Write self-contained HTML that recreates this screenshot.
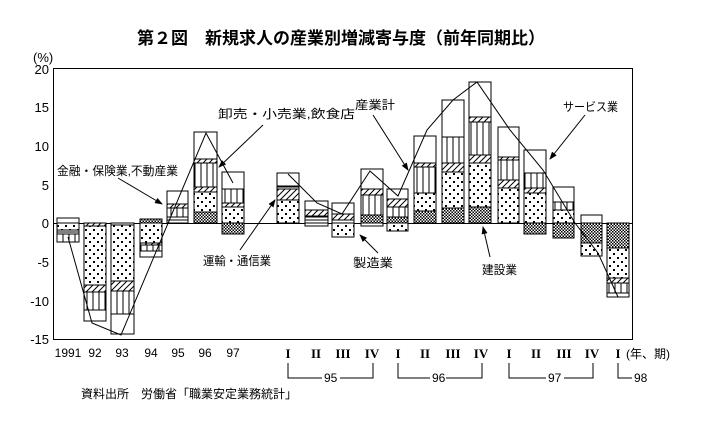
<!DOCTYPE html>
<html><head><meta charset="utf-8"><style>
html,body{margin:0;padding:0;background:#fff;}
svg{display:block;font-family:"Liberation Sans","Noto Sans CJK JP",sans-serif;}
</style></head><body>
<svg width="716" height="422" viewBox="0 0 716 422" xmlns="http://www.w3.org/2000/svg">
<defs>
<pattern id="V" width="6" height="6" patternUnits="userSpaceOnUse"><rect width="6" height="6" fill="#fff"/><line x1="3" y1="0" x2="3" y2="6" stroke="#000" stroke-width="1"/></pattern>
<pattern id="D" width="6" height="6" patternUnits="userSpaceOnUse"><rect width="6" height="6" fill="#fff"/><path d="M0,6 L6,0 M-1,1 L1,-1 M5,7 L7,5" stroke="#000" stroke-width="1"/></pattern>
<pattern id="S" width="8" height="8" patternUnits="userSpaceOnUse"><rect width="8" height="8" fill="#fff"/><rect x="1" y="1" width="2" height="2" fill="#000"/><rect x="5" y="5" width="2" height="2" fill="#000"/></pattern>
<pattern id="C" width="3" height="3" patternUnits="userSpaceOnUse"><rect width="3" height="3" fill="#fff"/><rect x="0" y="0" width="1.5" height="1.5" fill="#000"/><rect x="1.5" y="1.5" width="1.5" height="1.5" fill="#000"/></pattern>
<pattern id="H" width="3" height="3" patternUnits="userSpaceOnUse"><rect width="3" height="3" fill="#fff"/><line x1="0" y1="1" x2="3" y2="1" stroke="#000"/></pattern>
<marker id="ah" markerWidth="8" markerHeight="6" refX="7" refY="3" orient="auto"><path d="M0,0 L8,3 L0,6 Z" fill="#000"/></marker>
</defs>
<text x="137" y="44" font-size="17" font-weight="bold" textLength="408" lengthAdjust="spacingAndGlyphs">第２図　新規求人の産業別増減寄与度（前年同期比）</text>
<text x="33" y="62" font-size="13">(%)</text>
<g font-size="13" text-anchor="end">
<text x="49" y="74">20</text><text x="49" y="112">15</text><text x="49" y="151">10</text><text x="49" y="190">5</text><text x="49" y="228">0</text><text x="49" y="267">-5</text><text x="49" y="306">-10</text><text x="49" y="344">-15</text>
</g>
<rect x="53.5" y="68.5" width="579" height="271" fill="none" stroke="#000"/>
<line x1="53" y1="223.5" x2="632" y2="223.5" stroke="#000"/>
<g stroke="#000" stroke-width="1">
<rect x="57" y="218" width="22" height="5" fill="#fff"/><rect x="57" y="223" width="22" height="7" fill="url(#S)"/><rect x="57" y="230" width="22" height="4" fill="url(#H)"/><rect x="57" y="234" width="22" height="8" fill="url(#V)"/>
<rect x="84" y="223" width="22" height="3" fill="url(#D)"/><rect x="84" y="226" width="22" height="59" fill="url(#S)"/><rect x="84" y="285" width="22" height="7" fill="url(#D)"/><rect x="84" y="292" width="22" height="18" fill="url(#V)"/><rect x="84" y="310" width="22" height="11" fill="#fff"/>
<rect x="111" y="223" width="23" height="2" fill="#fff"/><rect x="111" y="225" width="23" height="56" fill="url(#S)"/><rect x="111" y="281" width="23" height="10" fill="url(#D)"/><rect x="111" y="291" width="23" height="23" fill="url(#V)"/><rect x="111" y="314" width="23" height="20" fill="#fff"/>
<rect x="140" y="219" width="22" height="4" fill="url(#C)"/><rect x="140" y="223" width="22" height="20" fill="url(#S)"/><rect x="140" y="243" width="22" height="2" fill="url(#D)"/><rect x="140" y="245" width="22" height="6" fill="url(#V)"/><rect x="140" y="251" width="22" height="6" fill="#fff"/>
<rect x="167" y="191" width="21" height="13" fill="#fff"/><rect x="167" y="204" width="21" height="4" fill="url(#D)"/><rect x="167" y="208" width="21" height="9" fill="url(#V)"/><rect x="167" y="217" width="21" height="6" fill="url(#H)"/>
<rect x="194" y="132" width="23" height="27" fill="#fff"/><rect x="194" y="159" width="23" height="4" fill="url(#D)"/><rect x="194" y="163" width="23" height="24" fill="url(#V)"/><rect x="194" y="187" width="23" height="5" fill="url(#D)"/><rect x="194" y="192" width="23" height="20" fill="url(#S)"/><rect x="194" y="212" width="23" height="11" fill="url(#C)"/>
<rect x="222" y="172" width="22" height="17" fill="#fff"/><rect x="222" y="189" width="22" height="14" fill="url(#V)"/><rect x="222" y="203" width="22" height="4" fill="url(#D)"/><rect x="222" y="207" width="22" height="16" fill="url(#S)"/><rect x="222" y="223" width="22" height="11" fill="url(#C)"/>
<rect x="277" y="173" width="22" height="13" fill="#fff"/><rect x="277" y="186" width="22" height="3" fill="url(#H)"/><rect x="277" y="189" width="22" height="11" fill="url(#D)"/><rect x="277" y="200" width="22" height="23" fill="url(#S)"/>
<rect x="305" y="201" width="23" height="9" fill="#fff"/><rect x="305" y="210" width="23" height="6" fill="url(#D)"/><rect x="305" y="216" width="23" height="7" fill="url(#H)"/><rect x="305" y="223" width="23" height="3" fill="url(#H)"/>
<rect x="332" y="203" width="22" height="11" fill="#fff"/><rect x="332" y="214" width="22" height="6" fill="url(#D)"/><rect x="332" y="220" width="22" height="3" fill="url(#H)"/><rect x="332" y="223" width="22" height="14" fill="url(#S)"/>
<rect x="361" y="169" width="22" height="20" fill="#fff"/><rect x="361" y="189" width="22" height="6" fill="url(#D)"/><rect x="361" y="195" width="22" height="20" fill="url(#V)"/><rect x="361" y="215" width="22" height="8" fill="url(#C)"/><rect x="361" y="223" width="22" height="3" fill="url(#H)"/>
<rect x="387" y="189" width="21" height="10" fill="#fff"/><rect x="387" y="199" width="21" height="8" fill="url(#D)"/><rect x="387" y="207" width="21" height="10" fill="url(#V)"/><rect x="387" y="217" width="21" height="6" fill="url(#C)"/><rect x="387" y="223" width="21" height="8" fill="url(#S)"/>
<rect x="414" y="136" width="22" height="27" fill="#fff"/><rect x="414" y="163" width="22" height="4" fill="url(#D)"/><rect x="414" y="167" width="22" height="26" fill="url(#V)"/><rect x="414" y="193" width="22" height="18" fill="url(#S)"/><rect x="414" y="211" width="22" height="12" fill="url(#C)"/>
<rect x="442" y="100" width="22" height="37" fill="#fff"/><rect x="442" y="137" width="22" height="26" fill="url(#V)"/><rect x="442" y="163" width="22" height="9" fill="url(#D)"/><rect x="442" y="172" width="22" height="36" fill="url(#S)"/><rect x="442" y="208" width="22" height="15" fill="url(#C)"/>
<rect x="469" y="82" width="22" height="35" fill="#fff"/><rect x="469" y="117" width="22" height="5" fill="url(#D)"/><rect x="469" y="122" width="22" height="33" fill="url(#V)"/><rect x="469" y="155" width="22" height="8" fill="url(#D)"/><rect x="469" y="163" width="22" height="44" fill="url(#S)"/><rect x="469" y="207" width="22" height="16" fill="url(#C)"/>
<rect x="498" y="127" width="21" height="30" fill="#fff"/><rect x="498" y="157" width="21" height="3" fill="url(#D)"/><rect x="498" y="160" width="21" height="20" fill="url(#V)"/><rect x="498" y="180" width="21" height="8" fill="url(#D)"/><rect x="498" y="188" width="21" height="35" fill="url(#S)"/>
<rect x="524" y="150" width="22" height="23" fill="#fff"/><rect x="524" y="173" width="22" height="15" fill="url(#V)"/><rect x="524" y="188" width="22" height="5" fill="url(#D)"/><rect x="524" y="193" width="22" height="30" fill="url(#S)"/><rect x="524" y="223" width="22" height="11" fill="url(#C)"/>
<rect x="553" y="187" width="21" height="15" fill="#fff"/><rect x="553" y="202" width="21" height="8" fill="url(#V)"/><rect x="553" y="210" width="21" height="13" fill="url(#S)"/><rect x="553" y="223" width="21" height="15" fill="url(#C)"/>
<rect x="581" y="215" width="21" height="8" fill="#fff"/><rect x="581" y="223" width="21" height="20" fill="url(#C)"/><rect x="581" y="243" width="21" height="13" fill="url(#S)"/>
<rect x="607" y="223" width="22" height="25" fill="url(#C)"/><rect x="607" y="248" width="22" height="30" fill="url(#S)"/><rect x="607" y="278" width="22" height="5" fill="url(#D)"/><rect x="607" y="283" width="22" height="10" fill="url(#V)"/><rect x="607" y="293" width="22" height="4" fill="#fff"/>
</g>
<polyline points="68,237 92,323 121,335 206,133 233,183" fill="none" stroke="#000"/>
<polyline points="288,174 317,203 342,214 370,171 398,196 427,130 453,100 477,82 510,130 543,170 575,223 598,253 618,297" fill="none" stroke="#000"/>
<g stroke="#000" fill="none" marker-end="url(#ah)">
<line x1="263" y1="125" x2="219" y2="167"/>
<line x1="118" y1="178" x2="162" y2="204"/>
<line x1="240" y1="250" x2="275" y2="200"/>
<line x1="373" y1="115" x2="408" y2="170"/>
<line x1="585" y1="115" x2="550" y2="159"/>
<line x1="378" y1="253" x2="360" y2="235"/>
<line x1="490" y1="257" x2="483" y2="227"/>
</g>
<g font-size="12">
<text x="218" y="118" textLength="137" lengthAdjust="spacingAndGlyphs">卸売・小売業,飲食店</text>
<text x="57" y="175" textLength="121" lengthAdjust="spacingAndGlyphs">金融・保険業,不動産業</text>
<text x="203" y="265" textLength="68" lengthAdjust="spacingAndGlyphs">運輸・通信業</text>
<text x="355" y="109" textLength="40" lengthAdjust="spacingAndGlyphs">産業計</text>
<text x="563" y="111" textLength="55" lengthAdjust="spacingAndGlyphs">サービス業</text>
<text x="353" y="267" textLength="40" lengthAdjust="spacingAndGlyphs">製造業</text>
<text x="482" y="274" textLength="35" lengthAdjust="spacingAndGlyphs">建設業</text>
</g>
<g font-size="12" text-anchor="middle">
<text x="68" y="357">1991</text><text x="95" y="357">92</text><text x="122" y="357">93</text><text x="151" y="357">94</text><text x="178" y="357">95</text><text x="205" y="357">96</text><text x="233" y="357">97</text>
</g>
<g font-size="13" font-weight="bold" text-anchor="middle" font-family="Liberation Serif,serif">
<text x="288" y="358">I</text><text x="316" y="358">II</text><text x="343" y="358">III</text><text x="372" y="358">IV</text>
<text x="398" y="358">I</text><text x="425" y="358">II</text><text x="453" y="358">III</text><text x="481" y="358">IV</text>
<text x="509" y="358">I</text><text x="536" y="358">II</text><text x="564" y="358">III</text><text x="592" y="358">IV</text>
<text x="618" y="358">I</text>
</g>
<text x="626" y="358" font-size="12">(年、期)</text>
<g stroke="#000" fill="none">
<polyline points="288,363 288,378 322,378"/><polyline points="340,378 373,378 373,363"/>
<polyline points="398,363 398,378 430,378"/><polyline points="446,378 482,378 482,363"/>
<polyline points="509,363 509,378 546,378"/><polyline points="564,378 593,378 593,363"/>
<polyline points="618,363 618,378 632,378"/>
</g>
<g font-size="12">
<text x="324" y="382">95</text><text x="432" y="382">96</text><text x="548" y="382">97</text><text x="634" y="382">98</text>
</g>
<text x="81" y="398" font-size="12">資料出所　労働省「職業安定業務統計」</text>
</svg>
</body></html>
